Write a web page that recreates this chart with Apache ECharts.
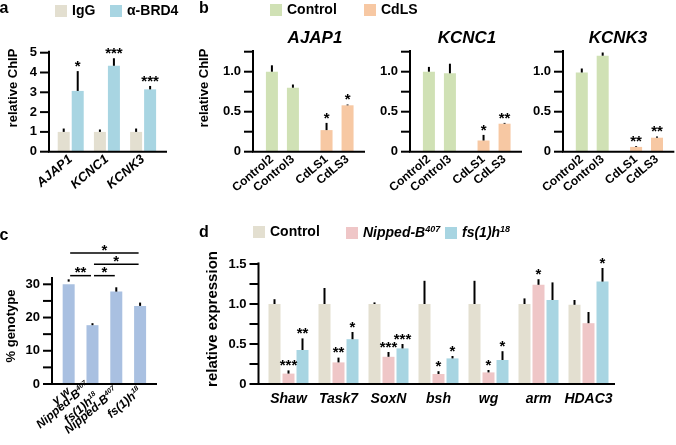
<!DOCTYPE html>
<html><head><meta charset="utf-8">
<script src="https://cdn.jsdelivr.net/npm/echarts@6/dist/echarts.min.js"></script>
<style>html,body{margin:0;padding:0;background:#fff}#c{width:676px;height:445px}</style>
</head><body><div id="c"></div>
<script>
// ---------------- Panel a ----------------
const aGenes = ['AJAP1', 'KCNC1', 'KCNK3'];
const aSeriesNames = ['IgG', 'α-BRD4'];
const aIgG = [1.0, 1.0, 1.0];
const aIgGErr = [0.17, 0.12, 0.17];
const aIgGStars = ['', '', ''];
const aBRD4 = [3.07, 4.34, 3.15];
const aBRD4Err = [1.0, 0.38, 0.17];
const aBRD4Stars = ['*', '***', '***'];
const aTicks = [0, 1, 2, 3, 4, 5];

// ---------------- Panel b ----------------
const bGenes = ['AJAP1', 'KCNC1', 'KCNK3'];
const bSamples = ['Control2', 'Control3', 'CdLS1', 'CdLS3'];
const bGroupOf = ['Control', 'Control', 'CdLS', 'CdLS'];
const bGroupNames = ['Control', 'CdLS'];
const bAJAP1 = [1.0, 0.80, 0.27, 0.58];
const bAJAP1Err = [0.08, 0.04, 0.09, 0.01];
const bAJAP1Stars = ['', '', '*', '*'];
const bKCNC1 = [1.0, 0.98, 0.14, 0.35];
const bKCNC1Err = [0.06, 0.12, 0.07, 0.01];
const bKCNC1Stars = ['', '', '*', '**'];
const bKCNK3 = [0.99, 1.20, 0.06, 0.175];
const bKCNK3Err = [0.05, 0.04, 0.01, 0.015];
const bKCNK3Stars = ['', '', '**', '**'];
const bTicks = [0, 0.25, 0.5, 0.75, 1.0, 1.25];
const bTickLabels = [0, 0.5, 1.0];

// ---------------- Panel c ----------------
const cGenotypes = ['y w', 'Nipped-B^407/fs(1)h^18', 'Nipped-B^407', 'fs(1)h^18'];
const cValues = [30.8, 17.7, 27.8, 23.5];
const cErr = [0.7, 0.6, 1.3, 1.0];
// [from index, to index, significance]
const cComparisons = [[0, 3, '*'], [1, 3, '*'], [0, 1, '**'], [1, 2, '*']];
const cTicks = [0, 5, 10, 15, 20, 25, 30];
const cTickLabels = [0, 10, 20, 30];

// ---------------- Panel d ----------------
const dGenes = ['Shaw', 'Task7', 'SoxN', 'bsh', 'wg', 'arm', 'HDAC3'];
const dSeriesNames = ['Control', 'Nipped-B^407', 'fs(1)h^18'];
const dControl = [1.0, 1.0, 1.0, 1.0, 1.0, 1.0, 0.99];
const dControlErr = [0.06, 0.2, 0.02, 0.29, 0.29, 0.07, 0.06];
const dControlStars = ['', '', '', '', '', '', ''];
const dNipped = [0.13, 0.27, 0.34, 0.125, 0.145, 1.24, 0.76];
const dNippedErr = [0.04, 0.06, 0.06, 0.035, 0.03, 0.07, 0.14];
const dNippedStars = ['***', '**', '***', '*', '*', '*', ''];
const dFs = [0.425, 0.56, 0.445, 0.32, 0.30, 1.05, 1.28];
const dFsErr = [0.145, 0.09, 0.055, 0.03, 0.11, 0.22, 0.17];
const dFsStars = ['**', '*', '***', '*', '*', '', '*'];
const dTicks = [0, 0.25, 0.5, 0.75, 1.0, 1.25, 1.5];
const dTickLabels = [0, 0.5, 1.0, 1.5];

// ---------------- styling ----------------
const FONT = '"Liberation Sans", Arial, Helvetica, sans-serif';
const C = {
  beige: '#e3dfd0', blue: '#a8d5e2', green: '#d0e1b5', peach: '#f7c8a3',
  pink: '#efc6c7', steel: '#a9c0e1'
};
const BW = 12;         // bar width px
const GAP = 2;         // gap between grouped bars px
const TICK = 9;        // tick length px
const XSTEP = 0.1;     // x-axis tick step (positions are multiples of it)

function rich(s, k) {
  return s.split('/').map(line => line.split('^').map((p, j) => j === 0 ? '{' + k + '|' + p + '}' : '{' + k + 's|' + p + '}').join('')).join('\n');
}
function richStyles(k, size, italic) {
  const o = {};
  o[k] = { fontSize: size, fontWeight: 'bold', fontStyle: italic ? 'italic' : 'normal', fontFamily: FONT, color: '#000', lineHeight: size + 2 };
  o[k + 's'] = { fontSize: Math.round(size * 0.62), fontWeight: 'bold', fontStyle: italic ? 'italic' : 'normal', fontFamily: FONT, color: '#000', lineHeight: Math.round(size * 0.62), verticalAlign: 'top' };
  return o;
}
const inList = (list, v) => list.some(t => Math.abs(t - v) < 1e-6);
const numFmt = v => (Math.abs(v) < 1e-9 ? '0' : v.toFixed(1));

function yAxisCfg(gi, ticks, labels, fmt, fs) {
  const step = ticks[1] - ticks[0];
  return {
    type: 'value', gridIndex: gi, min: ticks[0], max: ticks[ticks.length - 1], interval: step,
    axisLine: { show: false }, axisTick: { show: false },
    axisLabel: { formatter: v => inList(labels, v) ? fmt(v) : '', color: '#000', fontSize: fs, fontWeight: 'bold', fontFamily: FONT, margin: 12 },
    splitLine: { show: false }
  };
}
// x value axis starting at 0 at the grid's left edge; labels only at bar positions
function xAxisCfg(gi, max, positions, names, lab) {
  return {
    type: 'value', gridIndex: gi, min: 0, max: max, interval: XSTEP,
    axisLine: { show: false }, axisTick: { show: false }, splitLine: { show: false },
    axisLabel: Object.assign({
      formatter: v => { const i = positions.findIndex(p => Math.abs(p - v) < 1e-6); return i < 0 ? '' : names[i]; },
      color: '#000', fontFamily: FONT, fontWeight: 'bold', hideOverlap: false, showMinLabel: false, showMaxLabel: false
    }, lab)
  };
}
function errSeries(gi, xs, vals, errs, stars, offsetPx, starSize) {
  return {
    type: 'custom', xAxisIndex: gi, yAxisIndex: gi, z: 5, silent: true, clip: false,
    data: xs.map((x, i) => [x, vals[i], errs[i]]),
    renderItem: (params, api) => {
      const i = params.dataIndex;
      const x = api.value(0), v = api.value(1), e = api.value(2);
      const p0 = api.coord([x, v]), p1 = api.coord([x, v + e]);
      const cx = p0[0] + offsetPx;
      const ch = [{ type: 'line', shape: { x1: cx, y1: p0[1], x2: cx, y2: p1[1] }, style: { stroke: '#000', lineWidth: 2 } }];
      if (stars[i]) ch.push({ type: 'text', x: cx, y: p1[1] + 3, style: { text: stars[i], fill: '#000', font: 'bold ' + starSize + 'px ' + FONT, align: 'center', verticalAlign: 'bottom' } });
      return { type: 'group', children: ch };
    }
  };
}
const posOf = (n, pad, extra) => Array.from({ length: n }, (_, i) => +(pad + i + (extra ? extra(i) : 0)).toFixed(4));

const grids = [], xAxes = [], yAxes = [], series = [], axesDefs = [];

// ---- a (grid 0)
grids.push({ left: 49, top: 52.7, width: 118, height: 99 });
const aPos = posOf(aGenes.length, 0.6);
xAxes.push(xAxisCfg(0, 3.26, aPos, aGenes, { rotate: 40, fontSize: 13, fontStyle: 'italic', margin: 6 }));
yAxes.push(yAxisCfg(0, aTicks, aTicks, v => String(v), 13));
axesDefs.push({ gi: 0, xMax: 3.26, ticks: aTicks, yTop: 5.1 });
[[aIgG, aIgGErr, aIgGStars, C.beige], [aBRD4, aBRD4Err, aBRD4Stars, C.blue]].forEach((s, k) => {
  series.push({ type: 'bar', name: aSeriesNames[k], xAxisIndex: 0, yAxisIndex: 0, barWidth: BW, barGap: (GAP / BW * 100) + '%',
    itemStyle: { color: s[3] }, data: aPos.map((x, i) => [x, s[0][i]]) });
  series.push(errSeries(0, aPos, s[0], s[1], s[2], (k - 0.5) * (BW + GAP), 15));
});

// ---- b (grids 1..3)
const bData = { AJAP1: [bAJAP1, bAJAP1Err, bAJAP1Stars], KCNC1: [bKCNC1, bKCNC1Err, bKCNC1Stars], KCNK3: [bKCNK3, bKCNK3Err, bKCNK3Stars] };
const bPos = posOf(bSamples.length, 0.9, i => bGroupNames.indexOf(bGroupOf[i]) * 0.6);
const bLefts = [253, 410, 563];
bGenes.forEach((g, k) => {
  const gi = 1 + k;
  grids.push({ left: bLefts[k], top: 51.7, width: 112, height: 100 });
  xAxes.push(xAxisCfg(gi, 5.33, bPos, bSamples, { rotate: 40, fontSize: 12, margin: 6 }));
  yAxes.push(yAxisCfg(gi, bTicks, bTickLabels, numFmt, 13));
  axesDefs.push({ gi: gi, xMax: 5.33, ticks: bTicks, yTop: 1.27 });
  const [vals, errs, stars] = bData[g];
  bGroupNames.forEach(grp => {
    const idx = bSamples.map((s, i) => i).filter(i => bGroupOf[i] === grp);
    series.push({ type: 'bar', name: grp, xAxisIndex: gi, yAxisIndex: gi, barWidth: BW, stack: 'b' + k,
      itemStyle: { color: grp === 'Control' ? C.green : C.peach }, data: idx.map(i => [bPos[i], vals[i]]) });
  });
  series.push(errSeries(gi, bPos, vals, errs, stars, 0, 15));
});

// ---- c (grid 4)
grids.push({ left: 52, top: 284.3, width: 105, height: 99.7 });
const cPos = posOf(cGenotypes.length, 0.7);
xAxes.push(xAxisCfg(4, 4.41, cPos, cGenotypes.map(g => rich(g, 'c')), { rotate: 40, margin: 6, rich: richStyles('c', 12, true) }));
yAxes.push(yAxisCfg(4, cTicks, cTickLabels, v => String(v), 13));
axesDefs.push({ gi: 4, xMax: 4.41, ticks: cTicks, yTop: 32.2 });
series.push({ type: 'bar', name: 'genotype', xAxisIndex: 4, yAxisIndex: 4, barWidth: BW, itemStyle: { color: C.steel }, data: cPos.map((x, i) => [x, cValues[i]]) });
series.push(errSeries(4, cPos, cValues, cErr, ['', '', '', ''], 0, 15));
series.push({
  type: 'custom', xAxisIndex: 4, yAxisIndex: 4, z: 5, silent: true, clip: false,
  data: cComparisons.map(c => [cPos[c[0]], cPos[c[1]], Math.min(c[1] - c[0] - 1, 2)]),
  renderItem: (params, api) => {
    const x0v = api.value(0), x1v = api.value(1), tier = api.value(2);
    const yv = 32.6 + tier * 3.4;
    const p0 = api.coord([x0v, yv]), p1 = api.coord([x1v, yv]);
    const x0 = p0[0] + 1.5, x1 = p1[0] - 1.5;
    return { type: 'group', children: [
      { type: 'line', shape: { x1: x0, y1: p0[1], x2: x1, y2: p0[1] }, style: { stroke: '#000', lineWidth: 1.5 } },
      { type: 'text', x: (x0 + x1) / 2, y: p0[1] + 5, style: { text: cComparisons[params.dataIndex][2], fill: '#000', font: 'bold 15px ' + FONT, align: 'center', verticalAlign: 'bottom' } }
    ] };
  }
});

// ---- d (grid 5)
grids.push({ left: 258.5, top: 264, width: 356.5, height: 120 });
const dPos = posOf(dGenes.length, 0.6);
xAxes.push(xAxisCfg(5, 7.13, dPos, dGenes, { fontSize: 14, fontStyle: 'italic', margin: 8 }));
yAxes.push(yAxisCfg(5, dTicks, dTickLabels, numFmt, 13));
axesDefs.push({ gi: 5, xMax: 7.13, ticks: dTicks, yTop: 1.52 });
[[dControl, dControlErr, dControlStars, C.beige], [dNipped, dNippedErr, dNippedStars, C.pink], [dFs, dFsErr, dFsStars, C.blue]].forEach((s, k) => {
  series.push({ type: 'bar', name: dSeriesNames[k], xAxisIndex: 5, yAxisIndex: 5, barWidth: BW, barGap: (GAP / BW * 100) + '%',
    itemStyle: { color: s[3] }, data: dPos.map((x, i) => [x, s[0][i]]) });
  series.push(errSeries(5, dPos, s[0], s[1], s[2], (k - 1) * (BW + GAP), 15));
});

// ---- legends
function leg(name, color, left, top, italic) {
  return {
    data: [{ name: name, itemStyle: { color: color } }], left: left, top: top, padding: 0,
    icon: 'rect', itemWidth: 12, itemHeight: 12, selectedMode: false,
    formatter: n => rich(n, 'L'),
    textStyle: { rich: richStyles('L', 14, italic), fontSize: 14, fontWeight: 'bold', color: '#000', fontFamily: FONT }
  };
}
const legends = [
  leg(aSeriesNames[0], C.beige, 55, 4, false),
  leg(aSeriesNames[1], C.blue, 110, 4, false),
  leg(bGroupNames[0], C.green, 270, 3, false),
  leg(bGroupNames[1], C.peach, 364, 3, false),
  leg(dSeriesNames[0], C.beige, 253, 225, false),
  leg(dSeriesNames[1], C.pink, 346, 225, true),
  leg(dSeriesNames[2], C.blue, 445, 225, true)
];

// ---- text decorations
function txt(t, x, y, size, opts) {
  return Object.assign({ type: 'text', x: x, y: y, style: { text: t, fill: '#000', font: (opts && opts.italic ? 'italic ' : '') + 'bold ' + size + 'px ' + FONT, align: 'center', verticalAlign: 'middle' } }, opts && opts.rot ? { rotation: Math.PI / 2 } : {});
}
const graphic = [
  txt('a', 4, 9, 16), txt('b', 204, 9, 16), txt('c', 4, 236, 16), txt('d', 204, 233, 16),
  txt(bGenes[0], 315, 38, 17, { italic: true }),
  txt(bGenes[1], 467, 38, 17, { italic: true }),
  txt(bGenes[2], 618, 38, 17, { italic: true }),
  txt('relative ChIP', 13, 88, 13, { rot: true }),
  txt('relative ChIP', 204, 88, 13, { rot: true }),
  txt('% genotype', 11, 326, 13, { rot: true }),
  txt('relative expression', 213, 319, 15, { rot: true })
];

const chart = echarts.init(document.getElementById('c'), null, { renderer: 'canvas' });
chart.setOption({
  animation: false,
  grid: grids,
  xAxis: xAxes, yAxis: yAxes, series: series, legend: legends, graphic: graphic
});

// ---- axis lines and y ticks, positioned through each grid's own scales
const axisLines = [];
const seg = (x1, y1, x2, y2) => ({ type: 'line', z: 100, silent: true, shape: { x1: x1, y1: y1, x2: x2, y2: y2 }, style: { stroke: '#000', lineWidth: 2 } });
axesDefs.forEach(d => {
  const f = { gridIndex: d.gi };
  const o = chart.convertToPixel(f, [0, 0]);
  const xe = chart.convertToPixel(f, [d.xMax, 0]);
  const yt = chart.convertToPixel(f, [0, d.yTop]);
  axisLines.push(seg(o[0] - 1, o[1], xe[0], o[1]));
  axisLines.push(seg(o[0], o[1], o[0], yt[1]));
  d.ticks.forEach(t => {
    const p = chart.convertToPixel(f, [0, t]);
    axisLines.push(seg(o[0] - TICK, p[1], o[0], p[1]));
  });
});
chart.setOption({ graphic: graphic.concat(axisLines) });
</script></body></html>
